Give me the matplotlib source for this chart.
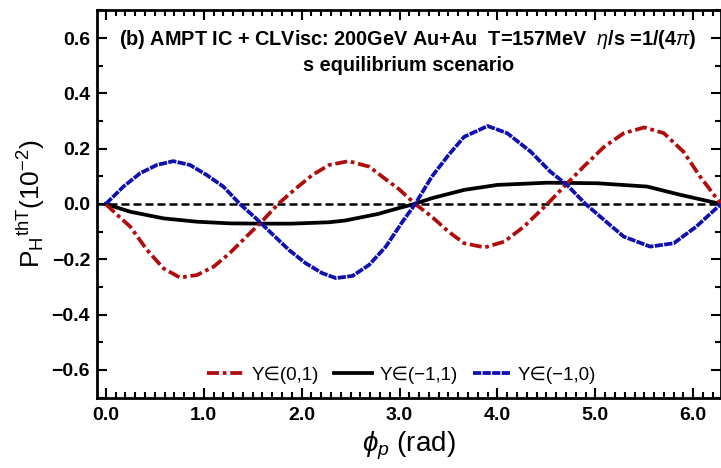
import numpy as np
import matplotlib
matplotlib.use("Agg")
import matplotlib.pyplot as plt
from matplotlib.ticker import MultipleLocator, FuncFormatter

plt.rcParams['font.family'] = ['Liberation Sans', 'DejaVu Sans']
plt.rcParams['mathtext.fontset'] = 'custom'
plt.rcParams['mathtext.rm'] = 'Liberation Sans'
plt.rcParams['mathtext.it'] = 'Liberation Sans:italic'
plt.rcParams['mathtext.bf'] = 'Liberation Sans:bold'

# Y in (0,1), red dash-dot
phi_red = [0.0, 0.1, 0.25, 0.42, 0.59, 0.757, 0.93, 1.10, 1.265, 1.43, 1.60,
           1.76, 1.94, 2.11, 2.28, 2.48, 2.69, 2.89, 2.99, 3.16, 3.33, 3.50,
           3.66, 3.87, 4.07, 4.27, 4.51, 4.68, 4.88, 5.09, 5.29, 5.50, 5.70,
           5.90, 6.07, 6.283]
p_red = [0.0, -0.034, -0.082, -0.166, -0.233, -0.266, -0.257, -0.227, -0.178,
         -0.12, -0.061, 0.0, 0.056, 0.105, 0.141, 0.155, 0.135, 0.081, 0.055,
         0.0, -0.046, -0.1, -0.142, -0.157, -0.136, -0.082, 0.0, 0.063, 0.135,
         0.207, 0.256, 0.277, 0.256, 0.189, 0.099, 0.0]

# Y in (-1,1), black solid
phi_blk = [0.0, 0.25, 0.59, 0.93, 1.265, 1.6, 1.9, 2.28, 2.44, 2.78, 2.99,
           3.15, 3.33, 3.66, 4.00, 4.51, 5.02, 5.53, 5.87, 6.283]
p_blk = [0.0, -0.028, -0.052, -0.064, -0.07, -0.071, -0.071, -0.066, -0.06,
         -0.036, -0.015, 0.0, 0.021, 0.051, 0.069, 0.077, 0.075, 0.063, 0.033,
         0.0]

# Y in (-1,0), blue dashed
phi_blu = [0.0, 0.18, 0.35, 0.52, 0.69, 0.86, 1.03, 1.20, 1.37, 1.54, 1.71,
           1.87, 2.04, 2.21, 2.35, 2.52, 2.69, 2.86, 3.03, 3.16, 3.33, 3.50,
           3.66, 3.90, 4.10, 4.34, 4.54, 4.71, 4.90, 5.09, 5.29, 5.56, 5.80,
           6.03, 6.283]
p_blu = [0.0, 0.063, 0.111, 0.141, 0.155, 0.141, 0.105, 0.063, 0.0, -0.054,
         -0.112, -0.166, -0.214, -0.25, -0.268, -0.26, -0.22, -0.154, -0.064,
         0.0, 0.099, 0.177, 0.243, 0.282, 0.256, 0.189, 0.117, 0.069, 0.0,
         -0.058, -0.118, -0.154, -0.142, -0.082, 0.0]

labels = [u'Y\u2208(0,1)', u'Y\u2208(\u22121,1)', u'Y\u2208(\u22121,0)']

fig = plt.figure(figsize=(7.21, 4.68), dpi=100)
ax = fig.add_axes([97 / 721, 70.4 / 468, 624 / 721, 387.2 / 468])

ax.axhline(0.0, color='black', lw=1.8, dashes=(3.2, 1.6), zorder=1)
ax.plot(phi_red, p_red, color='#b00d0d', lw=2.7, dashes=(3.2, 1.0, 1.0, 1.0),
        label=labels[0], zorder=3)
ax.plot(phi_blk, p_blk, color='black', lw=2.7, label=labels[1], zorder=2)
ax.plot(phi_blu, p_blu, color='#1010b0', lw=2.7, dashes=(2.2, 0.35),
        label=labels[2], zorder=4)

ax.set_xlim(-0.09, 2 * np.pi)
ax.set_ylim(-0.7, 0.7)

fmt = FuncFormatter(lambda v, pos: ('%.1f' % v).replace('-', u'\u2212'))
ax.xaxis.set_major_locator(MultipleLocator(1.0))
ax.xaxis.set_minor_locator(MultipleLocator(0.1))
ax.yaxis.set_major_locator(MultipleLocator(0.2))
ax.yaxis.set_minor_locator(MultipleLocator(0.1))
ax.xaxis.set_major_formatter(fmt)
ax.yaxis.set_major_formatter(fmt)

ax.tick_params(which='both', direction='in', top=True, right=True, width=1.5)
ax.tick_params(which='major', length=7, labelsize=14)
ax.tick_params(axis='x', which='major', pad=7)
ax.tick_params(axis='y', which='major', pad=5)
ax.tick_params(which='minor', length=4)
for lab in ax.get_xticklabels() + ax.get_yticklabels():
    lab.set_fontweight('bold')
for s in ax.spines.values():
    s.set_linewidth(2.0)

ax.set_xlabel(r'$\phi_p$ (rad)', fontsize=20, labelpad=4)
ax.set_ylabel(r'$\mathregular{P_H}^{\mathregular{thT}}\mathregular{(10^{-2})}$', fontsize=19, labelpad=3)

ax.text(3.09, 0.593, r'(b) AMPT IC + CLVisc: 200GeV Au+Au  T=157MeV  $\eta$/s =1/(4$\pi$)',
        ha='center', va='center', fontsize=14.3, fontweight='bold')
ax.text(3.09, 0.499, 's equilibrium scenario', ha='center', va='center',
        fontsize=14.3, fontweight='bold')

ax.legend(loc='center', bbox_to_anchor=(0.488, 0.058), ncol=3, frameon=False,
          fontsize=13.5, handlelength=2.0, handletextpad=0.4, columnspacing=0.8)

fig.savefig('out.png', dpi=100)
